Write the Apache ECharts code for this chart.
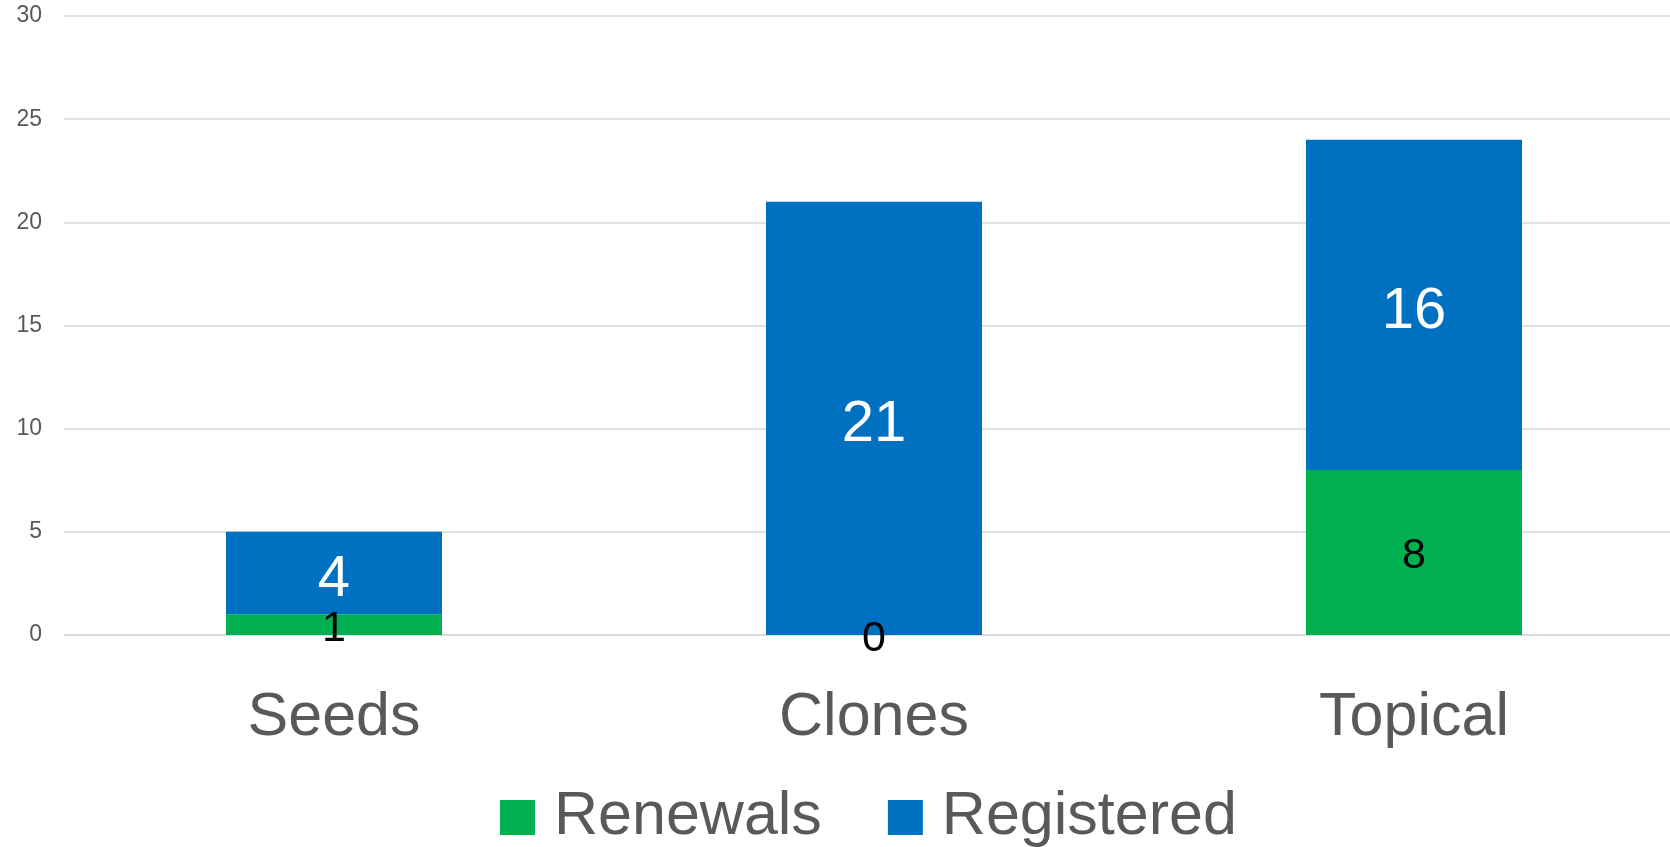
<!DOCTYPE html>
<html>
<head>
<meta charset="utf-8">
<script src="https://cdn.jsdelivr.net/npm/echarts@6/dist/echarts.min.js"></script>
<style>
  html, body { margin: 0; padding: 0; background: #fff; }
  #chart { width: 1670px; height: 847px; }
</style>
</head>
<body>
<div id="chart"></div>
<script>
// data
const categories = ['Seeds', 'Clones', 'Topical']
const renewals = [1, 0, 8]
const registered = [4, 21, 16]
const yTicks = { min: 0, max: 30, interval: 5 }

const font = '"Liberation Sans", Arial, sans-serif'

const chart = echarts.init(document.getElementById('chart'))

const option = {
  animation: false,
  textStyle: { fontFamily: font },
  grid: {
    left: 64,
    width: 1620,
    top: 16,
    bottom: 212,
    containLabel: false,
    outerBoundsMode: 'none'
  },
  legend: {
    data: ['Renewals', 'Registered'],
    bottom: -6,
    left: 495,
    icon: 'rect',
    itemWidth: 35,
    itemHeight: 35,
    itemGap: 66,
    textStyle: {
      fontSize: 61,
      color: '#595959',
      fontFamily: font,
      padding: [0, 0, 0, 14]
    }
  },
  xAxis: {
    type: 'category',
    data: categories,
    axisLine: { show: true, lineStyle: { color: '#d9d9d9', width: 1.5 } },
    axisTick: { show: false },
    axisLabel: {
      fontSize: 61,
      color: '#595959',
      margin: 53,
      fontFamily: font
    }
  },
  yAxis: {
    type: 'value',
    min: yTicks.min,
    max: yTicks.max,
    interval: yTicks.interval,
    axisLine: { show: false },
    axisTick: { show: false },
    axisLabel: {
      fontSize: 23,
      color: '#595959',
      margin: 22,
      fontFamily: font
    },
    splitLine: { lineStyle: { color: '#d9d9d9', width: 1.5 } }
  },
  series: [
    {
      name: 'Renewals',
      type: 'bar',
      stack: 'total',
      barWidth: '40%',
      data: renewals,
      itemStyle: { color: '#00B050' },
      label: {
        show: true,
        position: 'inside',
        offset: [0, 4],
        color: '#000',
        fontSize: 43,
        fontFamily: font
      }
    },
    {
      name: 'Registered',
      type: 'bar',
      stack: 'total',
      barWidth: '40%',
      data: registered,
      itemStyle: { color: '#0070C0' },
      label: {
        show: true,
        position: 'inside',
        offset: [0, 7],
        color: '#fff',
        fontSize: 58,
        fontFamily: font
      }
    }
  ]
}

chart.setOption(option)
</script>
</body>
</html>
